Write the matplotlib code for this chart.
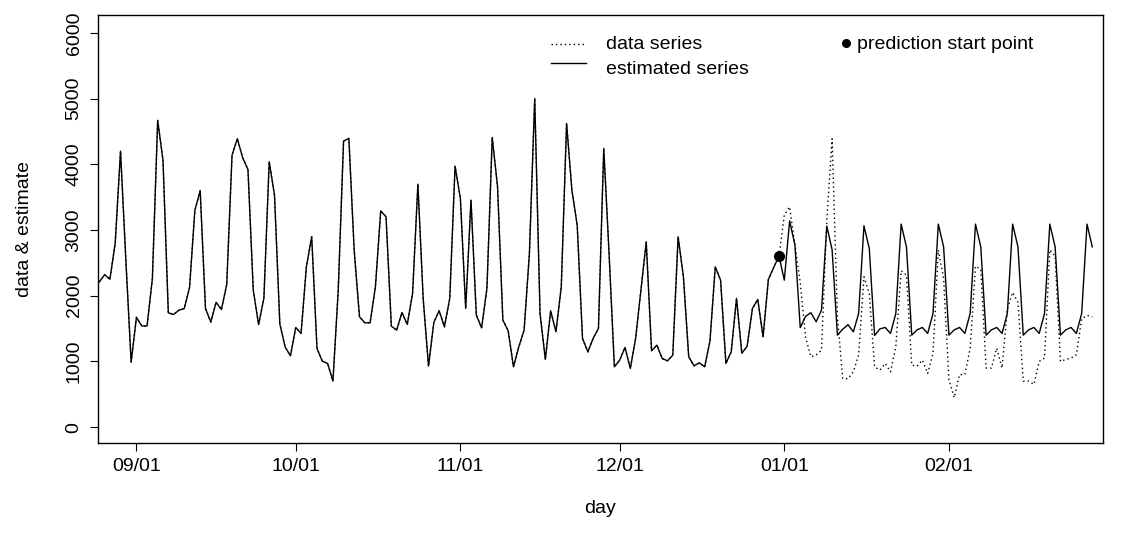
import pandas as pd
import matplotlib
matplotlib.use("Agg")
import matplotlib.pyplot as plt
import matplotlib.dates as mdates

plt.rcParams['font.family'] = ['Liberation Sans', 'DejaVu Sans']

# daily counts, 2014-08-25 .. 2015-02-28
start_day = "2014-08-25"
observed = [
    2210, 2320, 2250, 2800, 4200, 2550, 990,
    1670, 1540, 1540, 2260, 4670, 4060, 1740,
    1715, 1780, 1805, 2125, 3300, 3600, 1805,
    1600, 1900, 1790, 2170, 4140, 4390, 4100,
    3920, 2085, 1560, 1960, 4040, 3530, 1570,
    1220, 1085, 1517, 1426, 2440, 2897, 1198,
    1004, 969, 700, 2085, 4353, 4394, 2694,
    1680, 1588, 1588, 2136, 3292, 3201, 1537,
    1476, 1745, 1563, 2035, 3698, 1950, 929,
    1594, 1771, 1527, 1959, 3972, 3481, 1806,
    3455, 1705, 1510, 2110, 4409, 3657, 1629,
    1466, 918, 1222, 1476, 2643, 5003, 1730,
    1030, 1771, 1451, 2136, 4622, 3607, 3074,
    1350, 1146, 1350, 1502, 4242, 2643, 918,
    1020, 1213, 893, 1350, 2085, 2820, 1161,
    1248, 1045, 1009, 1096, 2897, 2288, 1070,
    933, 979, 918, 1309, 2440, 2237, 969,
    1146, 1959, 1125, 1230, 1806, 1943, 1374,
    2248, 2430, 2603,
    # after 12/31
    3227, 3353, 2770, 2200, 1370, 1070, 1100,
    1170, 3150, 4390, 1680, 741, 736, 842,
    1100, 2288, 2035, 918, 868, 969, 842,
    1223, 2379, 2313, 944, 928, 1020, 817,
    1121, 2694, 2263, 720, 450, 800, 800,
    1200, 2450, 2400, 900, 900, 1200, 900,
    1800, 2050, 1900, 700, 700, 650, 1000,
    1050, 2700, 2600, 1000, 1030, 1050, 1100,
    1650, 1700, 1680,
]
n_fit = 129  # values up to and including 12/31

forecast = [
    2237, 3140, 2770, 1515, 1685, 1742, 1603,
    1781, 3060, 2700, 1400, 1490, 1560, 1450,
    1730, 3064, 2720, 1395, 1495, 1517, 1426,
    1730, 3090, 2744, 1400, 1480, 1517, 1426,
    1730, 3090, 2744, 1400, 1480, 1517, 1426,
    1730, 3090, 2744, 1400, 1480, 1517, 1426,
    1730, 3090, 2744, 1400, 1480, 1517, 1426,
    1730, 3090, 2744, 1400, 1480, 1517, 1426,
    1730, 3090, 2744,
]

days = pd.date_range(start_day, periods=len(observed), freq="D")
estimated = observed[:n_fit] + forecast

fig = plt.figure(figsize=(11.22, 5.45), dpi=100)
ax = fig.add_axes([0.0873, 0.187, 0.8957, 0.786])

fs = 14
dotted = (0, (1, 2.2))

ax.plot(days, observed, color="black", lw=1.0, linestyle=dotted)
ax.plot(days, estimated, color="black", lw=1.0)
ax.plot(days[n_fit - 1], observed[n_fit - 1], "o", color="black", ms=7)

ax.set_xlim(days[0] - pd.Timedelta(hours=6), days[-1] + pd.Timedelta(days=2))
ax.set_ylim(-243, 6277)

ax.xaxis.set_major_locator(mdates.MonthLocator(bymonth=[9, 10, 11, 12, 1, 2]))
ax.xaxis.set_major_formatter(mdates.DateFormatter("%m/%d"))
ax.set_yticks(range(0, 6001, 1000))
ax.tick_params(axis="x", length=6, width=0.8, pad=5, labelsize=fs)
ax.tick_params(axis="y", length=6, width=0.8, pad=5, labelsize=fs)
for lab in ax.get_yticklabels():
    lab.set_rotation(90)
    lab.set_va("center")

for sp in ax.spines.values():
    sp.set_linewidth(1.0)

ax.set_xlabel("day", fontsize=fs, va="center")
ax.xaxis.set_label_coords(0.5, -0.152)
ax.set_ylabel("data & estimate", fontsize=fs, va="center")
ax.yaxis.set_label_coords(-0.0735, 0.5)

# legend drawn in axes coordinates, R style without a box
tr = ax.transAxes
ax.plot([0.451, 0.486], [0.931, 0.931], transform=tr, color="black", lw=1.0,
        linestyle=dotted, clip_on=False)
ax.plot([0.451, 0.486], [0.887, 0.887], transform=tr, color="black", lw=1.0,
        clip_on=False)
ax.text(0.506, 0.931, "data series", transform=tr, fontsize=fs, va="center")
ax.text(0.506, 0.871, "estimated series", transform=tr, fontsize=fs, va="center")
ax.plot([0.744], [0.934], "o", transform=tr, color="black", ms=5.5, clip_on=False)
ax.text(0.755, 0.931, "prediction start point", transform=tr, fontsize=fs,
        va="center")

fig.savefig("out.png", dpi=100)
